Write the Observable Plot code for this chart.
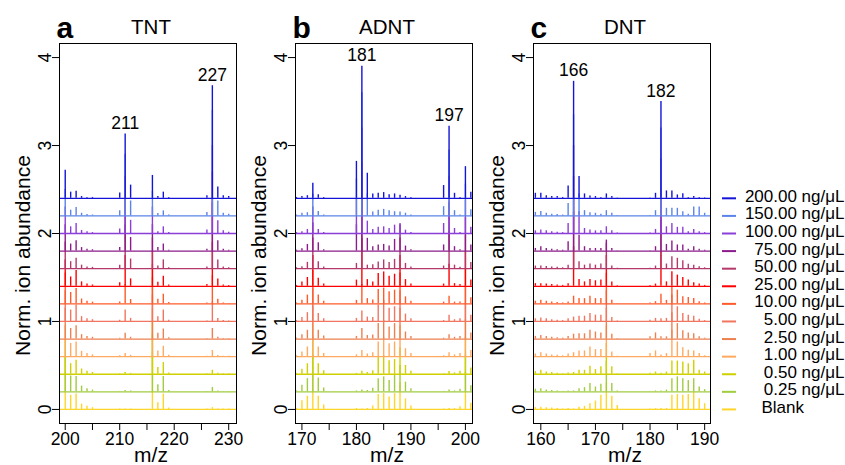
<!DOCTYPE html>
<html>
<head>
<meta charset="utf-8">
<script src="https://cdn.jsdelivr.net/npm/d3@7"></script>
<script src="https://cdn.jsdelivr.net/npm/@observablehq/plot@0.6"></script>
<style>
  html, body { margin: 0; padding: 0; background: #fff; }
  #wrap { position: relative; width: 845px; height: 465px; overflow: hidden; font-family: "Liberation Sans", Arial, sans-serif; }
  #wrap svg { position: absolute; top: 0; }
</style>
</head>
<body>
<div id="wrap"></div>
<script>
// ---------- shared series ----------
const concentrations = ["200.00 ng/μL","150.00 ng/μL","100.00 ng/μL","75.00 ng/μL","50.00 ng/μL","25.00 ng/μL","10.00 ng/μL","5.00 ng/μL","2.50 ng/μL","1.00 ng/μL","0.50 ng/μL","0.25 ng/μL","Blank"];
const traceColors = ["#1414d8","#5b84e8","#8c3ed8","#8b1c8b","#b5386b","#ff0000","#ff5a2a","#f27560","#ee8050","#ffaa60","#d0d000","#a0cc40","#ffd52a"];
const traceOffsets = [2.4, 2.2, 2.0, 1.8, 1.6, 1.4, 1.2, 1.0, 0.8, 0.6, 0.4, 0.2, 0];
const yTicks = [0, 1, 2, 3, 4];
const yDomain = [-0.16, 4.16];

// ---------- panel a: TNT ----------
const tntMz = [200,201,202,203,204,205,210,211,212,216,217,218,219,226,227,228,229,230];
const tntAbundance = [
  [0.32,0.07,0.08,0.02,0.01,0.01,0.06,0.73,0.15,0.26,0.02,0.07,0.01,0.03,1.28,0.13,0.03,0.02],
  [0.30,0.065,0.095,0.03,0.015,0.01,0.06,0.70,0.17,0.28,0.027,0.057,0.01,0.04,1.20,0.17,0.03,0.02],
  [0.30,0.076,0.114,0.035,0.02,0.01,0.05,0.65,0.15,0.30,0.02,0.076,0.01,0.04,1.00,0.144,0.03,0.015],
  [0.30,0.08,0.118,0.04,0.02,0.015,0.04,0.60,0.155,0.30,0.04,0.08,0.01,0.02,0.90,0.118,0.02,0.01],
  [0.30,0.08,0.12,0.04,0.02,0.015,0.04,0.50,0.11,0.35,0.03,0.10,0.01,0.02,0.75,0.10,0.02,0.01],
  [0.30,0.106,0.18,0.05,0.025,0.015,0.04,0.35,0.084,0.40,0.045,0.114,0.015,0.02,0.50,0.084,0.015,0.01],
  [0.35,0.13,0.175,0.055,0.03,0.02,0.02,0.22,0.05,0.45,0.053,0.11,0.015,0.01,0.32,0.053,0.01,0.005],
  [0.35,0.13,0.186,0.055,0.03,0.02,0.015,0.13,0.035,0.50,0.053,0.13,0.015,0.005,0.22,0.034,0.01,0.005],
  [0.35,0.12,0.15,0.05,0.03,0.02,0.01,0.065,0.02,0.50,0.065,0.114,0.015,0.005,0.12,0.02,0.005,0.005],
  [0.35,0.15,0.167,0.06,0.035,0.02,0.01,0.035,0.015,0.55,0.065,0.118,0.015,0.005,0.07,0.012,0.005,0.005],
  [0.40,0.12,0.16,0.06,0.035,0.02,0.005,0.02,0.01,0.60,0.076,0.133,0.015,0.005,0.045,0.01,0.005,0.005],
  [0.40,0.18,0.175,0.065,0.035,0.02,0.005,0.015,0.01,0.65,0.08,0.175,0.015,0.005,0.05,0.01,0.005,0.005],
  [0.40,0.16,0.175,0.06,0.035,0.02,0.005,0.005,0.005,0.65,0.076,0.175,0.015,0.005,0.02,0.005,0.005,0.005]
];
const tntLabels = [211, 227];
const tntDomain = [198.95, 231.43];
const tntTicks = [200, 205, 210, 215, 220, 225, 230];

// ---------- panel b: ADNT ----------
const adntMz = [169,170,171,172,173,174,180,181,182,183,184,185,186,187,188,189,190,196,197,198,199,200,201];
const adntAbundance = [
  [0.01,0.02,0.03,0.17,0.04,0.01,0.42,1.50,0.285,0.05,0.057,0.065,0.04,0.05,0.035,0.02,0.01,0.145,0.82,0.057,0.01,0.36,0.07],
  [0.01,0.03,0.036,0.25,0.05,0.01,0.42,1.40,0.25,0.045,0.065,0.074,0.06,0.048,0.044,0.03,0.01,0.105,0.75,0.06,0.01,0.36,0.07],
  [0.01,0.02,0.046,0.30,0.046,0.01,0.40,1.20,0.14,0.045,0.07,0.076,0.057,0.095,0.114,0.038,0.01,0.114,0.65,0.057,0.01,0.38,0.07],
  [0.01,0.027,0.076,0.32,0.095,0.015,0.30,1.00,0.145,0.05,0.07,0.076,0.057,0.133,0.30,0.057,0.015,0.07,0.55,0.05,0.015,0.38,0.07],
  [0.01,0.023,0.072,0.35,0.08,0.02,0.06,0.80,0.04,0.045,0.076,0.10,0.07,0.106,0.35,0.06,0.02,0.03,0.42,0.04,0.015,0.38,0.07],
  [0.01,0.05,0.10,0.35,0.09,0.025,0.07,0.55,0.076,0.05,0.145,0.163,0.114,0.137,0.35,0.076,0.025,0.025,0.25,0.03,0.02,0.40,0.07],
  [0.01,0.04,0.10,0.38,0.10,0.03,0.04,0.22,0.06,0.045,0.163,0.18,0.137,0.156,0.35,0.08,0.03,0.02,0.087,0.02,0.02,0.40,0.07],
  [0.01,0.045,0.10,0.38,0.09,0.03,0.035,0.12,0.05,0.045,0.186,0.24,0.15,0.167,0.35,0.084,0.03,0.01,0.07,0.02,0.03,0.40,0.07],
  [0.01,0.05,0.10,0.38,0.10,0.035,0.03,0.12,0.04,0.045,0.176,0.21,0.137,0.176,0.35,0.08,0.03,0.01,0.05,0.02,0.03,0.40,0.07],
  [0.01,0.053,0.11,0.40,0.11,0.035,0.02,0.07,0.03,0.045,0.167,0.22,0.148,0.167,0.35,0.09,0.035,0.01,0.045,0.02,0.035,0.42,0.07],
  [0.01,0.057,0.12,0.42,0.12,0.04,0.01,0.035,0.02,0.04,0.20,0.21,0.152,0.167,0.30,0.10,0.035,0.005,0.03,0.015,0.035,0.42,0.07],
  [0.01,0.075,0.15,0.42,0.157,0.045,0.01,0.02,0.015,0.04,0.15,0.17,0.13,0.186,0.30,0.11,0.035,0.005,0.02,0.01,0.03,0.42,0.07],
  [0.01,0.10,0.15,0.40,0.15,0.05,0.01,0.005,0.01,0.04,0.17,0.18,0.14,0.18,0.30,0.12,0.04,0.005,0.01,0.01,0.03,0.42,0.07]
];
const adntLabels = [181, 197];
const adntDomain = [168.82, 201.3];
const adntTicks = [170, 175, 180, 185, 190, 195, 200];

// ---------- panel c: DNT ----------
const dntMz = [159,160,161,162,163,164,165,166,167,168,169,170,171,172,173,174,180,181,182,183,184,185,186,187,188,189,190];
const dntAbundance = [
  [0.057,0.057,0.03,0.02,0.02,0.01,0.14,1.33,0.247,0.05,0.027,0.02,0.01,0.05,0.02,0.005,0.005,0.057,1.10,0.084,0.084,0.038,0.053,0.01,0.02,0.01,0.005],
  [0.04,0.05,0.03,0.02,0.015,0.01,0.14,1.15,0.25,0.06,0.036,0.03,0.02,0.06,0.03,0.005,0.005,0.06,1.00,0.086,0.086,0.086,0.048,0.02,0.10,0.10,0.03],
  [0.03,0.04,0.03,0.02,0.015,0.01,0.114,1.00,0.247,0.057,0.04,0.03,0.03,0.076,0.03,0.005,0.005,0.046,0.85,0.076,0.114,0.07,0.07,0.02,0.046,0.02,0.01],
  [0.03,0.05,0.03,0.02,0.015,0.01,0.106,0.85,0.18,0.05,0.03,0.03,0.03,0.125,0.03,0.005,0.005,0.05,0.70,0.076,0.114,0.07,0.07,0.02,0.05,0.02,0.01],
  [0.03,0.03,0.025,0.02,0.015,0.01,0.04,0.65,0.08,0.04,0.053,0.04,0.053,0.29,0.03,0.005,0.005,0.03,0.55,0.053,0.137,0.118,0.09,0.05,0.04,0.023,0.01],
  [0.03,0.03,0.025,0.02,0.015,0.01,0.03,0.45,0.076,0.05,0.076,0.063,0.07,0.35,0.05,0.005,0.01,0.025,0.40,0.05,0.165,0.127,0.10,0.07,0.04,0.025,0.01],
  [0.03,0.04,0.03,0.02,0.015,0.01,0.02,0.087,0.06,0.06,0.087,0.06,0.06,0.35,0.04,0.005,0.01,0.025,0.11,0.04,0.20,0.156,0.08,0.072,0.06,0.025,0.01],
  [0.03,0.04,0.03,0.02,0.015,0.01,0.03,0.05,0.06,0.06,0.09,0.072,0.072,0.35,0.045,0.005,0.015,0.035,0.03,0.035,0.30,0.167,0.09,0.072,0.06,0.025,0.01],
  [0.03,0.04,0.03,0.02,0.015,0.01,0.03,0.055,0.06,0.06,0.10,0.08,0.07,0.35,0.055,0.005,0.025,0.07,0.025,0.025,0.30,0.176,0.095,0.07,0.06,0.025,0.01],
  [0.03,0.045,0.03,0.02,0.015,0.01,0.03,0.045,0.065,0.065,0.11,0.08,0.08,0.35,0.053,0.005,0.035,0.065,0.02,0.035,0.30,0.167,0.10,0.072,0.065,0.035,0.01],
  [0.03,0.045,0.025,0.02,0.01,0.005,0.015,0.02,0.045,0.045,0.09,0.053,0.084,0.35,0.084,0.005,0.01,0.025,0.01,0.025,0.15,0.15,0.14,0.12,0.16,0.045,0.025],
  [0.03,0.035,0.02,0.015,0.01,0.005,0.01,0.01,0.035,0.048,0.095,0.055,0.087,0.35,0.095,0.01,0.005,0.01,0.01,0.02,0.15,0.17,0.15,0.13,0.15,0.055,0.025],
  [0.02,0.025,0.02,0.015,0.01,0.005,0.01,0.005,0.025,0.035,0.065,0.095,0.16,0.30,0.15,0.045,0.005,0.01,0.01,0.01,0.16,0.17,0.16,0.17,0.20,0.12,0.065]
];
const dntLabels = [166, 182];
const dntDomain = [158.66, 191.07];
const dntTicks = [160, 165, 170, 175, 180, 185, 190];

// ---------- drawing ----------
const FONT = "Liberation Sans, Arial, Helvetica, sans-serif";
const wrap = document.getElementById("wrap");

function panel({mz, abundance, domain, ticks, letter, name, labels, left}) {
  const marks = [];
  // draw Blank first, highest concentration last
  for (let i = concentrations.length - 1; i >= 0; i--) {
    const peaks = mz.map((m, j) => ({mz: m, base: traceOffsets[i], top: traceOffsets[i] + abundance[i][j]}));
    marks.push(Plot.ruleY([traceOffsets[i]], {stroke: traceColors[i], strokeWidth: 1.3}));
    marks.push(Plot.ruleX(peaks, {x: "mz", y1: "base", y2: "top", stroke: traceColors[i], strokeWidth: 1.4}));
  }
  const labelData = labels.map(m => ({mz: m, top: traceOffsets[0] + abundance[0][mz.indexOf(m)], label: String(m)}));
  marks.push(
    Plot.frame({stroke: "black", strokeWidth: 1}),
    Plot.axisY(yTicks, {tickSize: 7, tickPadding: 2, tickRotate: -90, fontSize: 17.5, label: null, tickFormat: d => String(d)}),
    Plot.axisX(ticks, {tickSize: 7, tickPadding: 2, fontSize: 17.5, label: null, tickFormat: d => d % 10 === 0 ? String(d) : ""}),
    Plot.text(labelData, {x: "mz", y: "top", text: "label", lineAnchor: "bottom", dy: -5, fontSize: 17.5}),
    Plot.text(["Norm. ion abundance"], {frameAnchor: "left", rotate: -90, textAnchor: "middle", lineAnchor: "bottom", dx: -30, dy: 22, fontSize: 21}),
    Plot.text([letter], {frameAnchor: "top-left", textAnchor: "start", lineAnchor: "bottom", dx: -3, dy: -6, fontSize: 30, fontWeight: "bold"}),
    Plot.text([name], {frameAnchor: "top", lineAnchor: "bottom", dx: 3, dy: -10, fontSize: 20.5}),
    Plot.text(["m/z"], {frameAnchor: "bottom", lineAnchor: "bottom", dx: 3, dy: 38, fontSize: 21})
  );
  const svg = Plot.plot({
    width: 236, height: 465,
    marginLeft: 59, marginRight: 0, marginTop: 43, marginBottom: 42,
    x: {domain, label: null},
    y: {domain: yDomain, label: null},
    style: {fontFamily: FONT, fontSize: "16px", color: "black", background: "transparent", overflow: "visible"},
    marks
  });
  svg.style.left = left + "px";
  wrap.appendChild(svg);
}

panel({mz: tntMz, abundance: tntAbundance, domain: tntDomain, ticks: tntTicks, letter: "a", name: "TNT", labels: tntLabels, left: 0});
panel({mz: adntMz, abundance: adntAbundance, domain: adntDomain, ticks: adntTicks, letter: "b", name: "ADNT", labels: adntLabels, left: 236});
panel({mz: dntMz, abundance: dntAbundance, domain: dntDomain, ticks: dntTicks, letter: "c", name: "DNT", labels: dntLabels, left: 474});

// ---------- legend (same y scale as the panels, rows sit on the trace baselines) ----------
const legendRows = concentrations.map((c, i) => ({label: c, offset: traceOffsets[i], color: traceColors[i], blank: c === "Blank"}));
const legend = Plot.plot({
  width: 136, height: 465,
  marginLeft: 13, marginRight: 109, marginTop: 43, marginBottom: 42,
  y: {domain: yDomain, axis: null},
  x: {axis: null},
  color: {type: "identity"},
  style: {fontFamily: FONT, fontSize: "16px", color: "black", background: "transparent", overflow: "visible"},
  marks: [
    Plot.ruleY(legendRows, {y: "offset", stroke: "color", strokeWidth: 2}),
    Plot.text(legendRows.filter(d => !d.blank), {y: "offset", text: "label", frameAnchor: "right", textAnchor: "end", dx: 108, dy: -2, fontSize: 17}),
    Plot.text(legendRows.filter(d => d.blank), {y: "offset", text: "label", frameAnchor: "right", textAnchor: "start", dx: 25, dy: -2, fontSize: 17})
  ]
});
legend.style.left = "709px";
wrap.appendChild(legend);
</script>
</body>
</html>
